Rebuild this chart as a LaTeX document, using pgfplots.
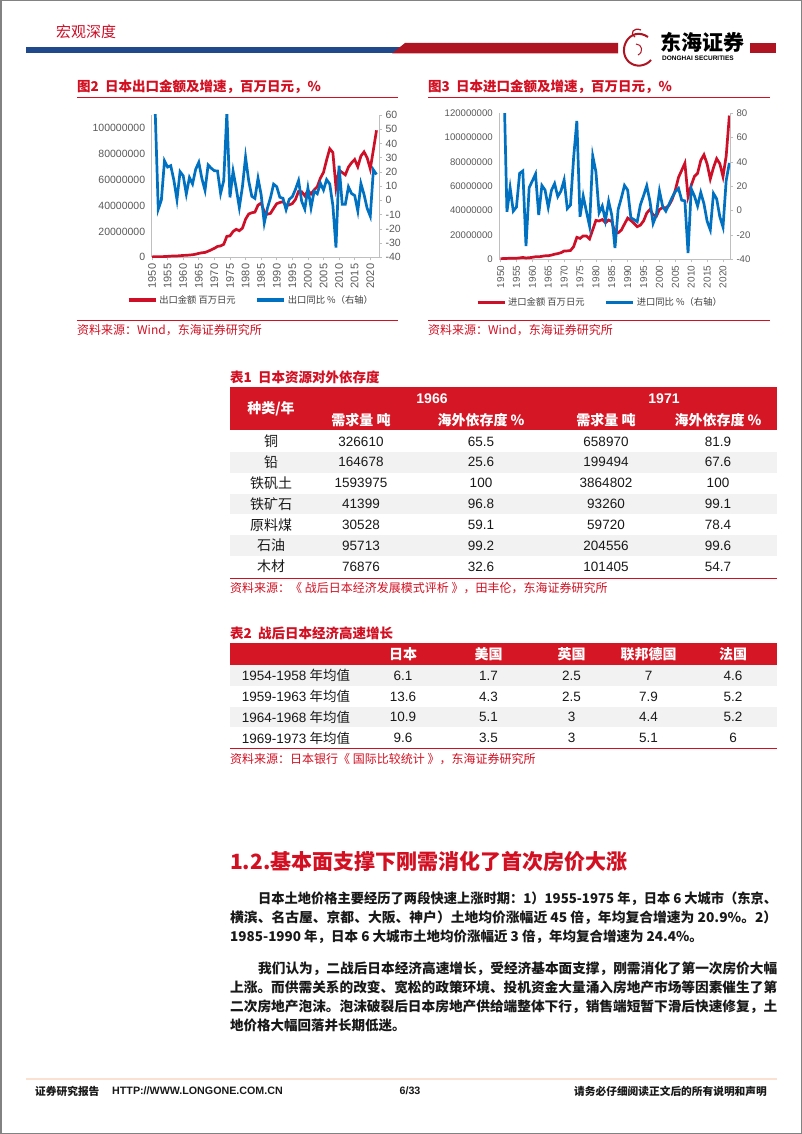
\documentclass[border=0pt]{standalone}
\usepackage{graphicx}
\usepackage{pgfplots}
\pgfplotsset{compat=1.18}
\usepackage{pgfplotstable}
\usepackage{fontspec}
\setmainfont{Noto Sans CJK SC}
\newfontfamily\arial{Liberation Sans}
\newcommand\fs[1]{\fontsize{#1}{#1}\selectfont}
\definecolor{tred}{RGB}{210,16,34}
\definecolor{tblred}{RGB}{213,22,36}
\definecolor{hbarred}{RGB}{175,20,35}
\definecolor{hblue}{RGB}{31,73,138}
\definecolor{expred}{RGB}{205,16,40}
\definecolor{expblue}{RGB}{0,112,192}
\definecolor{axgray}{RGB}{191,191,191}
\definecolor{labgray}{RGB}{89,89,89}
\definecolor{legtext}{RGB}{64,64,64}
\definecolor{rowgray}{RGB}{242,242,242}
\definecolor{framegray}{RGB}{130,130,130}
\definecolor{bodyblack}{RGB}{25,25,25}
\definecolor{footline}{RGB}{250,225,210}

\pgfplotstableread{
year val g
1950 298021 nan
1951 488777 64.0
1952 458243 -6.2
1953 458943 0.2
1954 586525 27.8
1955 723816 23.4
1956 900229 24.4
1957 1028887 14.3
1958 1035562 0.6
1959 1244322 20.2
1960 1459633 17.3
1961 1524788 4.5
1962 1768051 16.0
1963 1972291 11.6
1964 2401665 21.8
1965 3042627 26.7
1966 3509275 15.3
1967 3759185 7.1
1968 4697046 24.9
1969 5756382 22.6
1970 6954367 20.8
1971 8392768 20.7
1972 8806072 4.9
1973 10031426 13.9
1974 16207914 61.6
1975 16545314 2.1
1976 19934603 20.5
1977 21648070 8.6
1978 20555840 -5.0
1979 22531539 9.6
1980 29382472 30.4
1981 33468985 13.9
1982 34432543 2.9
1983 34909268 1.4
1984 40325293 15.5
1985 41955659 4.0
1986 35289714 -15.9
1987 33315191 -5.6
1988 33939183 1.9
1989 37822535 11.4
1990 41456940 9.6
1991 42359893 2.2
1992 43012281 1.5
1993 40202449 -6.5
1994 40497553 0.7
1995 41530895 2.6
1996 44731311 7.7
1997 50937992 13.9
1998 50645003 -0.6
1999 47547556 -6.1
2000 51654198 8.6
2001 48979244 -5.2
2002 52108956 6.4
2003 54548350 4.7
2004 61169979 12.1
2005 65656544 7.3
2006 75246173 14.6
2007 83931438 11.5
2008 81018088 -3.5
2009 54170614 -33.1
2010 67399627 24.4
2011 65546475 -2.7
2012 63747572 -2.7
2013 69774193 9.5
2014 73093028 4.8
2015 75613929 3.4
2016 70035770 -7.4
2017 78286457 11.8
2018 81478753 4.1
2019 76931665 -5.6
2020 68399121 -11.1
2021 83091420 21.5
2022 98173612 18.2
}\exportdata

\pgfplotstableread{
year val g
1950 348196 nan
1951 737241 111.7
1952 730352 -0.9
1953 867469 18.8
1954 863785 -0.4
1955 889715 3.0
1956 1162704 30.7
1957 1541608 32.6
1958 1091925 -29.2
1959 1299560 19.0
1960 1616797 24.4
1961 2103175 30.1
1962 2028247 -3.6
1963 2447600 20.7
1964 2860819 16.9
1965 2940846 2.8
1966 3427958 16.6
1967 4188240 22.2
1968 4675431 11.6
1969 5430416 16.1
1970 6797156 25.2
1971 6910024 1.7
1972 7228966 4.6
1973 10404371 43.9
1974 18076373 73.7
1975 17170201 -5.0
1976 19229163 12.0
1977 19131778 -0.5
1978 16727624 -12.6
1979 24245416 44.9
1980 31995325 32.0
1981 31464140 -1.7
1982 32656256 3.8
1983 30014766 -8.1
1984 32321092 7.7
1985 31084934 -3.8
1986 21550716 -30.7
1987 21736872 0.9
1988 24006320 10.4
1989 28978573 20.7
1990 33855208 16.8
1991 31900154 -5.8
1992 29527419 -7.4
1993 26826357 -9.1
1994 28104327 4.8
1995 31548754 12.3
1996 37993421 20.4
1997 40956183 7.8
1998 36653647 -10.5
1999 35268008 -3.8
2000 40938423 16.1
2001 42415524 3.6
2002 42227506 -0.4
2003 44362023 5.1
2004 49216636 10.9
2005 56949391 15.7
2006 67344468 18.3
2007 73135920 8.6
2008 78954750 8.0
2009 51499378 -34.8
2010 60764957 18.0
2011 68111187 12.1
2012 70688632 3.8
2013 81242545 14.9
2014 85909113 5.7
2015 78405536 -8.7
2016 66041974 -15.8
2017 75379231 14.1
2018 82703304 9.7
2019 78599510 -5.0
2020 68010832 -13.5
2021 84875045 24.8
2022 118141000 39.2
}\importdata

\pgfplotsset{
  chartbase/.style={
    scale only axis, clip=true,
    axis line style={-, draw=axgray, line width=0.7pt},
    tick style={draw=axgray, line width=0.6pt},
    major tick length=3pt, tick align=outside,
    /pgf/number format/assume math mode=true,
    /pgf/number format/1000 sep={},
    scaled y ticks=false,
    tick label style={text=labgray},
  },
  legbase/.style={
    legend style={anchor=center, draw=none, fill=none, legend columns=2,
      text=legtext, inner sep=0pt,
      /tikz/every even column/.append style={column sep=18pt}},
    legend image code/.code={\draw[##1, line width=3.2pt] (0pt,0pt) -- (27pt,0pt);},
  },
}

\begin{document}
\begin{tikzpicture}
\begin{scope}[x=1pt,y=1pt]
\useasboundingbox (0,0) rectangle (802,-1134);
\fill[white] (0,0) rectangle (802,-1134);
\draw[framegray, line width=1.5pt] (0.75,-0.75) rectangle (801.25,-1133.25);

% ---------- header ----------
\node[inner sep=0, text=expred] at (86,-32) {\fs{15}宏观深度};
\fill[hblue] (26,-47.5) rectangle (400,-53.5);
\fill[hbarred] (392,-53.5) -- (405,-43) -- (618,-43) -- (618,-53.5) -- cycle;
\fill[hbarred] (750,-43) rectangle (776,-53.5);
\draw[hbarred, line width=2pt] (648,-37) .. controls (630,-25) and (616,-50) .. (629,-62) .. controls (636,-68) and (646,-66) .. (651,-60);
\draw[hbarred, line width=1.2pt] (641,-30) .. controls (634,-27) and (629,-33) .. (635,-37);
\draw[hbarred, line width=1pt] (636,-44) .. controls (642,-44) and (644,-52) .. (638,-55);
\node[anchor=west, inner sep=0] at (660,-42) {\fs{21}\bfseries 东海证券};
\node[anchor=west, inner sep=0] at (662,-58.5) {\arial\fs{6.5}\bfseries DONGHAI SECURITIES};

% ---------- chart titles ----------
\node[anchor=west, inner sep=0, text=tred] at (77,-87) {\fs{13.5}\bfseries 图2\ \ 日本出口金额及增速，百万日元，\%};
\draw[tred, line width=1pt] (77,-97.5) -- (398,-97.5);
\node[anchor=west, inner sep=0, text=tred] at (428,-87) {\fs{13.5}\bfseries 图3\ \ 日本进口金额及增速，百万日元，\%};
\draw[tred, line width=1pt] (428,-97.5) -- (770,-97.5);

% ---------- chart sources ----------
\draw[tred, line width=0.6pt] (77,-320.5) -- (398,-320.5);
\draw[tred, line width=0.6pt] (428,-320.5) -- (770,-320.5);
\node[anchor=west, inner sep=0, text=tred] at (77,-330) {\fs{12}资料来源：Wind，东海证券研究所};
\node[anchor=west, inner sep=0, text=tred] at (428,-330) {\fs{12}资料来源：Wind，东海证券研究所};

% ---------- table 1 ----------
\node[anchor=west, inner sep=0, text=tred] at (230,-377) {\fs{13.5}\bfseries 表1\ \ 日本资源对外依存度};
\fill[tblred] (230,-387) rectangle (777,-430);
\foreach \i in {1,3,5} {\fill[rowgray] (230,{-431-20.85*\i}) rectangle (777,{-431-20.85*(\i+1)});}
\begin{scope}[every node/.style={inner sep=0, text=white}]
\node at (271,-409) {\fs{14}\bfseries 种类/年};
\node at (432,-399) {\arial\fs{14}\bfseries 1966};
\node at (664,-399) {\arial\fs{14}\bfseries 1971};
\node at (361,-420) {\fs{14}\bfseries 需求量 吨};
\node at (481,-420) {\fs{14}\bfseries 海外依存度 \%};
\node at (606,-420) {\fs{14}\bfseries 需求量 吨};
\node at (718,-420) {\fs{14}\bfseries 海外依存度 \%};
\end{scope}
\foreach \n/\a/\b/\c/\d [count=\i from 0] in {铜/326610/65.5/658970/81.9, 铅/164678/25.6/199494/67.6, 铁矾土/1593975/100/3864802/100, 铁矿石/41399/96.8/93260/99.1, 原料煤/30528/59.1/59720/78.4, 石油/95713/99.2/204556/99.6, 木材/76876/32.6/101405/54.7}{
  \pgfmathsetmacro\yy{-441.4-20.85*\i}
  \node[inner sep=0, text=bodyblack] at (271,\yy) {\fs{14}\n};
  \node[inner sep=0, text=bodyblack] at (361,\yy) {\arial\fs{13.5}\a};
  \node[inner sep=0, text=bodyblack] at (481,\yy) {\arial\fs{13.5}\b};
  \node[inner sep=0, text=bodyblack] at (606,\yy) {\arial\fs{13.5}\c};
  \node[inner sep=0, text=bodyblack] at (718,\yy) {\arial\fs{13.5}\d};
}
\draw[tred, line width=0.8pt] (230,-578) -- (777,-578);
\node[anchor=west, inner sep=0, text=tred] at (230,-588) {\fs{12}资料来源：《 战后日本经济发展模式评析 》，田丰伦，东海证券研究所};

% ---------- table 2 ----------
\node[anchor=west, inner sep=0, text=tred] at (230,-633) {\fs{13.5}\bfseries 表2\ \ 战后日本经济高速增长};
\fill[tblred] (230,-643) rectangle (777,-665);
\foreach \i in {0,2} {\fill[rowgray] (230,{-665-20.8*\i}) rectangle (777,{-665-20.8*(\i+1)});}
\begin{scope}[every node/.style={inner sep=0, text=white}]
\node at (403,-654) {\fs{14}\bfseries 日本};
\node at (488.5,-654) {\fs{14}\bfseries 美国};
\node at (571.6,-654) {\fs{14}\bfseries 英国};
\node at (648.6,-654) {\fs{14}\bfseries 联邦德国};
\node at (733,-654) {\fs{14}\bfseries 法国};
\end{scope}
\foreach \n/\a/\b/\c/\d/\e [count=\i from 0] in {1954-1958/6.1/1.7/2.5/7/4.6, 1959-1963/13.6/4.3/2.5/7.9/5.2, 1964-1968/10.9/5.1/3/4.4/5.2, 1969-1973/9.6/3.5/3/5.1/6}{
  \pgfmathsetmacro\yy{-675.6-20.8*\i}
  \node[inner sep=0, text=bodyblack] at (296,\yy) {\fs{13.5}{\arial\n} 年均值};
  \node[inner sep=0, text=bodyblack] at (403,\yy) {\arial\fs{13.5}\a};
  \node[inner sep=0, text=bodyblack] at (488.5,\yy) {\arial\fs{13.5}\b};
  \node[inner sep=0, text=bodyblack] at (571.6,\yy) {\arial\fs{13.5}\c};
  \node[inner sep=0, text=bodyblack] at (648.6,\yy) {\arial\fs{13.5}\d};
  \node[inner sep=0, text=bodyblack] at (733,\yy) {\arial\fs{13.5}\e};
}
\draw[tred, line width=0.8pt] (230,-748.5) -- (777,-748.5);
\node[anchor=west, inner sep=0, text=tred] at (230,-759) {\fs{12}资料来源：日本银行《 国际比较统计 》，东海证券研究所};

% ---------- section ----------
\node[anchor=west, inner sep=0, text=tred] at (230,-862) {\fs{21}\bfseries 1.2.基本面支撑下刚需消化了首次房价大涨};

\begin{scope}[every node/.style={anchor=west, inner sep=0, text=bodyblack}]
\node at (258,-898.3) {\resizebox{519pt}{\height}{\fs{13.5}\bfseries 日本土地价格主要经历了两段快速上涨时期：1）1955-1975 年，日本 6 大城市（东京、}};
\node at (230,-917.3) {\resizebox{547pt}{\height}{\fs{13.5}\bfseries 横滨、名古屋、京都、大阪、神户）土地均价涨幅近 45 倍，年均复合增速为 20.9\%。2）}};
\node at (230,-936.7) {\fs{13.5}\bfseries 1985-1990 年，日本 6 大城市土地均价涨幅近 3 倍，年均复合增速为 24.4\%。};
\node at (258,-968.3) {\resizebox{519pt}{\height}{\fs{13.5}\bfseries 我们认为，二战后日本经济高速增长，受经济基本面支撑，刚需消化了第一次房价大幅}};
\node at (230,-987.7) {\resizebox{547pt}{\height}{\fs{13.5}\bfseries 上涨。而供需关系的改变、宽松的政策环境、投机资金大量涌入房地产市场等因素催生了第}};
\node at (230,-1006.7) {\resizebox{547pt}{\height}{\fs{13.5}\bfseries 二次房地产泡沫。泡沫破裂后日本房地产供给端整体下行，销售端短暂下滑后快速修复，土}};
\node at (230,-1025.7) {\fs{13.5}\bfseries 地价格大幅回落并长期低迷。};
\end{scope}

% ---------- footer ----------
\draw[footline, line width=1.5pt] (26,-1079) -- (777,-1079);
\node[anchor=west, inner sep=0, text=bodyblack] at (35,-1091) {\fs{10.7}\bfseries 证券研究报告};
\node[anchor=west, inner sep=0, text=bodyblack] at (112,-1091) {\arial\bfseries\fs{10.7}HTTP://WWW.LONGONE.COM.CN};
\node[inner sep=0, text=bodyblack] at (410,-1091) {\arial\bfseries\fs{10.7}6/33};
\node[anchor=east, inner sep=0, text=bodyblack] at (767,-1091) {\fs{10.7}\bfseries 请务必仔细阅读正文后的所有说明和声明};
\end{scope}

% ---------- chart 1: exports ----------
\begin{axis}[chartbase, legbase,
  at={(151.7pt,-257.3pt)}, anchor=south west, width=227.3pt, height=142.3pt,
  xmin=1949.9, xmax=2022.8, ymin=0, ymax=110000000,
  axis x line*=bottom, axis y line*=left,
  xtick={1950,1955,...,2020},
  ytick={0,20000000,40000000,60000000,80000000,100000000},
  yticklabels={0,20000000,40000000,60000000,80000000,100000000},
  ytick style={draw=none},
  x tick label style={rotate=90, anchor=east, font=\arial\fs{11}},
  y tick label style={font=\arial\fs{10.5}},
  legend style={at={(0.437,-0.30)}, font=\fs{9.3}},
]
\addplot[expred, line width=2.7pt] table[x=year, y=val] {\exportdata};
\addlegendentry{出口金额 百万日元}
\addlegendimage{expblue, line width=2.7pt}
\addlegendentry{出口同比 \%（右轴）}
\end{axis}
\begin{axis}[chartbase,
  at={(151.7pt,-257.3pt)}, anchor=south west, width=227.3pt, height=142.3pt,
  xmin=1949.9, xmax=2022.8, ymin=-40, ymax=60,
  axis x line=none, axis y line*=right,
  ytick={-40,-30,...,60},
  y tick label style={font=\arial\fs{10.5}},
]
\addplot[expblue, line width=2.7pt] table[x=year, y=g] {\exportdata};
\end{axis}

% ---------- chart 2: imports ----------
\begin{axis}[chartbase, legbase,
  at={(499.3pt,-259.3pt)}, anchor=south west, width=230.7pt, height=146pt,
  xmin=1949.6, xmax=2022.2, ymin=0, ymax=120000000,
  axis x line*=bottom, axis y line*=left,
  xtick={1950,1955,...,2020},
  ytick={0,20000000,40000000,60000000,80000000,100000000,120000000},
  yticklabels={0,20000000,40000000,60000000,80000000,100000000,120000000},
  ytick style={draw=none},
  x tick label style={rotate=90, anchor=east, font=\arial\fs{10}},
  y tick label style={font=\arial\fs{9.6}},
  legend style={at={(0.436,-0.297)}, font=\fs{9.3}},
]
\addplot[expred, line width=2.7pt] table[x=year, y=val] {\importdata};
\addlegendentry{进口金额 百万日元}
\addlegendimage{expblue, line width=2.7pt}
\addlegendentry{进口同比 \%（右轴）}
\end{axis}
\begin{axis}[chartbase,
  at={(499.3pt,-259.3pt)}, anchor=south west, width=230.7pt, height=146pt,
  xmin=1949.6, xmax=2022.2, ymin=-40, ymax=80,
  axis x line=none, axis y line*=right,
  ytick={-40,-20,...,80},
  y tick label style={font=\arial\fs{9.6}},
]
\addplot[expblue, line width=2.7pt] table[x=year, y=g] {\importdata};
\end{axis}
\end{tikzpicture}
\end{document}
